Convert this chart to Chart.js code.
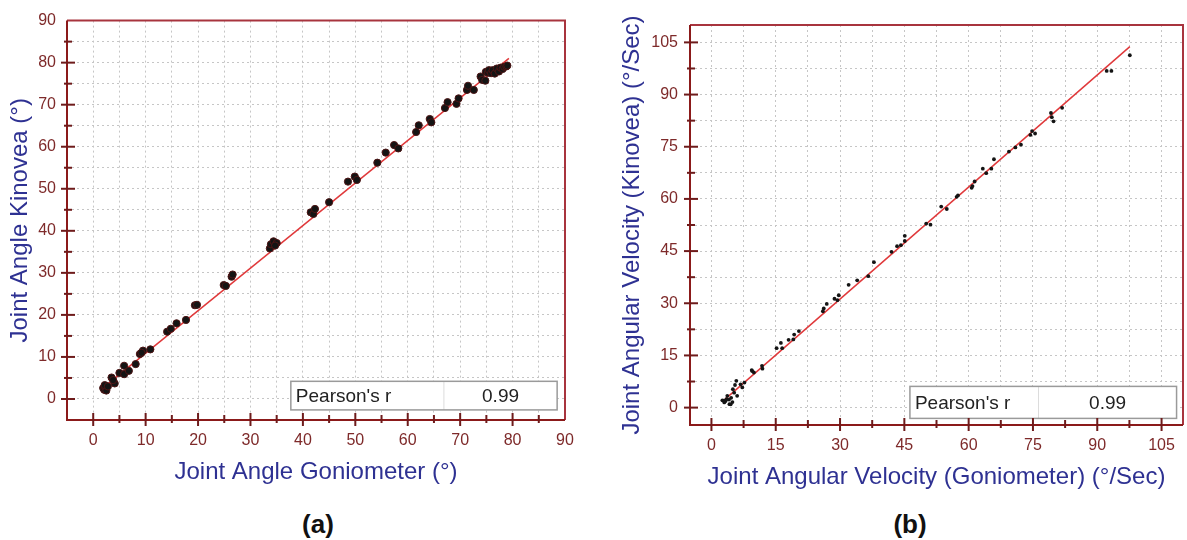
<!DOCTYPE html>
<html>
<head>
<meta charset="utf-8">
<script src="https://cdn.jsdelivr.net/npm/chart.js@4.4.1/dist/chart.umd.min.js"></script>
<style>
  body { margin: 0; background: #fff; width: 1187px; height: 540px; position: relative; overflow: hidden;
         font-family: 'Liberation Sans', Arial, sans-serif; }
  canvas { position: absolute; top: 0; }
  .caption { position: absolute; top: 509px; font-size: 26px; line-height: 30px; font-weight: bold;
             color: #111; transform: translateX(-50%); }
</style>
</head>
<body>
<canvas id="chartA" width="590" height="500" style="left:0px"></canvas>
<canvas id="chartB" width="592" height="500" style="left:595px"></canvas>
<div class="caption" style="left:318px">(a)</div>
<div class="caption" style="left:910px">(b)</div>

<script>
// ---- values ----

// (a) joint angle, degrees
const goniometerAngle = [1.9, 2.1, 2.3, 2.5, 2.2, 2.8, 3.5, 4.1, 3.8, 5.0, 5.9, 5.9, 6.8, 8.1, 8.9, 9.5, 9.2, 10.9,
  14.1, 14.8, 15.9, 17.7, 19.4, 19.8, 24.9, 25.3, 26.4, 26.6, 33.7, 33.9, 34.4, 35.0, 34.7, 41.5, 42.0, 42.3,
  45.0, 48.6, 49.9, 50.3, 54.2, 55.8, 57.4, 58.2, 61.6, 62.1, 64.2, 64.5, 67.1, 67.6, 69.3, 69.7, 71.3, 71.5,
  72.6, 73.9, 74.2, 74.8, 74.9, 75.3, 75.5, 75.9, 76.2, 76.6, 77.0, 77.4, 77.7, 78.1, 78.4, 78.8, 79.0];
const kinoveaAngle = [2.6, 2.2, 2.8, 2.0, 3.3, 3.0, 5.1, 3.7, 4.5, 6.2, 7.9, 5.9, 6.7, 8.3, 10.7, 11.5, 11.0, 11.8,
  16.0, 16.7, 18.0, 18.8, 22.3, 22.4, 27.1, 26.9, 29.1, 29.6, 35.8, 36.8, 37.5, 37.1, 36.5, 44.4, 44.0, 45.2,
  46.8, 51.7, 52.9, 52.1, 56.2, 58.6, 60.4, 59.6, 63.5, 65.1, 66.6, 65.8, 69.2, 70.6, 70.2, 71.5, 73.5, 74.5,
  73.5, 76.7, 75.9, 75.7, 77.8, 77.6, 78.2, 77.5, 78.2, 77.4, 78.6, 77.9, 78.8, 78.5, 79.0, 79.1, 79.3];
const angleFitX = [1.5, 79.3];
const angleFitY = [2.3, 81.0];
const angleTicks = [0, 10, 20, 30, 40, 50, 60, 70, 80, 90];

// (b) joint angular velocity, degrees / sec
const goniometerVelocity = [2.55, 2.9, 3.3, 3.7, 4.1, 4.2, 4.5, 4.9, 5.0, 5.3, 5.5, 5.8, 6.0, 6.8, 7.2, 7.7,
  9.4, 9.5, 9.9, 11.8, 11.9, 15.2, 16.2, 16.5, 18.0, 19.1, 19.3, 20.4, 26.0, 26.2, 26.9, 28.7, 29.4, 29.7,
  32.0, 34.0, 36.6, 37.9, 42.0, 43.3, 44.2, 45.1, 45.1, 50.1, 51.1, 53.6, 54.9, 57.2, 57.5, 60.7, 60.9, 61.4,
  63.3, 64.1, 65.3, 65.9, 69.4, 70.9, 72.2, 74.4, 74.8, 75.5, 79.2, 79.4, 79.8, 81.8, 92.2, 93.3, 97.6,
  3.0, 4.6, 3.5];
const kinoveaVelocity = [2.1, 2.0, 1.9, 3.4, 2.3, 1.0, 0.95, 1.6, 5.3, 4.3, 6.5, 7.7, 3.4, 6.7, 5.8, 7.2,
  10.8, 10.5, 10.1, 12.0, 11.2, 17.1, 18.6, 17.1, 19.5, 19.6, 21.0, 22.0, 27.7, 28.5, 29.8, 31.3, 30.9, 32.3,
  35.3, 36.6, 37.8, 41.8, 44.8, 46.4, 46.7, 49.4, 47.9, 52.9, 52.6, 57.8, 57.1, 60.6, 61.0, 63.2, 63.7, 65.0,
  68.7, 67.4, 68.7, 71.4, 73.6, 74.8, 75.6, 78.4, 79.5, 78.8, 84.7, 83.5, 82.3, 86.2, 96.8, 96.8, 101.3,
  1.5, 2.8, 2.4];
const velocityFitX = [2.8, 97.6];
const velocityFitY = [2.0, 103.8];
const velocityTicks = [0, 15, 30, 45, 60, 75, 90, 105];

const pearsonLabel = "Pearson's r";
const pearsonValues = ['0.99', '0.99'];

// ---- styling ----
const FONT = "'Liberation Sans', Arial, sans-serif";
const TICK_COLOR = '#7e2a2a';
const TITLE_COLOR = '#2e3192';
const AXIS_COLOR = '#8b1a1a';

Chart.defaults.font.family = FONT;

function pairs(xs, ys) {
    return xs.map((v, i) => ({ x: v, y: ys[i] }));
}

// labelled ticks plus the minor ticks half way between them
function tickList(labels, min, max) {
    const step = labels[1] - labels[0];
    const out = [];
    for (let v = labels[0] - step / 2; v <= labels[labels.length - 1] + step / 2 + 1e-9; v += step / 2) {
        const r = Math.round(v * 100) / 100;
        if (r >= min && r <= max) out.push(r);
    }
    return out;
}

// axis frame + tick marks crossing the axis lines
const framePlugin = {
    id: 'frame',
    afterDraw(chart, args, opts) {
        const { ctx, chartArea: a, scales: { x, y } } = chart;
        ctx.save();
        ctx.lineWidth = 2;
        ctx.strokeStyle = '#a8343e';
        ctx.beginPath();
        ctx.moveTo(a.left, a.top); ctx.lineTo(a.right, a.top); ctx.lineTo(a.right, a.bottom);
        ctx.stroke();
        ctx.strokeStyle = AXIS_COLOR;
        ctx.beginPath();
        ctx.moveTo(a.left, a.top); ctx.lineTo(a.left, a.bottom); ctx.lineTo(a.right, a.bottom);
        ctx.stroke();

        ctx.strokeStyle = '#6e1b1b';
        x.ticks.forEach(t => {
            if (t.value <= x.min || t.value >= x.max) return;
            const major = opts.xLabels.includes(t.value);
            const px = x.getPixelForValue(t.value);
            ctx.beginPath();
            ctx.moveTo(px, a.bottom - (major ? 7 : 5));
            ctx.lineTo(px, a.bottom + (major ? 6 : 3));
            ctx.stroke();
        });
        y.ticks.forEach(t => {
            if (t.value <= y.min || t.value >= y.max) return;
            const major = opts.yLabels.includes(t.value);
            const py = y.getPixelForValue(t.value);
            ctx.beginPath();
            ctx.moveTo(a.left - (major ? 6 : 3), py);
            ctx.lineTo(a.left + (major ? 8 : 5), py);
            ctx.stroke();
        });
        ctx.restore();
    }
};

// the small "Pearson's r" table inside the plot
const pearsonPlugin = {
    id: 'pearson',
    afterDatasetsDraw(chart, args, opts) {
        const { ctx, scales: { x, y } } = chart;
        const l = x.getPixelForValue(opts.x0), r = x.getPixelForValue(opts.x1);
        const d = x.getPixelForValue(opts.xDiv);
        const t = y.getPixelForValue(opts.y0), b = y.getPixelForValue(opts.y1);
        ctx.save();
        ctx.fillStyle = '#fff';
        ctx.fillRect(l, t, r - l, b - t);
        ctx.strokeStyle = '#dcdcdc';
        ctx.lineWidth = 1;
        ctx.beginPath(); ctx.moveTo(d, t); ctx.lineTo(d, b); ctx.stroke();
        ctx.strokeStyle = '#9a9a9a';
        ctx.lineWidth = 1.5;
        ctx.strokeRect(l, t, r - l, b - t);
        ctx.fillStyle = '#222';
        ctx.font = '19px ' + FONT;
        ctx.textBaseline = 'middle';
        ctx.textAlign = 'left';
        ctx.fillText(opts.label, l + 5, (t + b) / 2 + 1);
        ctx.textAlign = 'center';
        ctx.fillText(opts.value, (d + r) / 2, (t + b) / 2 + 1);
        ctx.restore();
    }
};

function axis(o) {
    return {
        type: 'linear',
        min: o.min,
        max: o.max,
        afterBuildTicks: s => { s.ticks = tickList(o.labels, o.min, o.max).map(v => ({ value: v })); },
        afterFit: s => { if (o.width) s.width = o.width; if (o.height) s.height = o.height; },
        grid: { color: '#c6c6c6', lineWidth: 1, drawTicks: false },
        border: { display: false, dash: [2, 3] },
        ticks: {
            autoSkip: false,
            maxRotation: 0,
            padding: o.tickPad,
            color: TICK_COLOR,
            font: { size: 16 },
            callback: v => o.labels.includes(v) ? String(v) : ''
        },
        title: {
            display: true,
            text: o.title,
            color: TITLE_COLOR,
            font: { size: 24 },
            padding: o.titlePad
        }
    };
}

function createPanel(id, cfg) {
    const chart = new Chart(document.getElementById(id), {
        type: 'scatter',
        data: {
            datasets: [
                {
                    data: cfg.points,
                    order: 0,
                    pointRadius: cfg.pointRadius,
                    backgroundColor: '#141414',
                    borderColor: cfg.pointEdge,
                    borderWidth: cfg.pointBorder
                },
                {
                    data: cfg.fit,
                    order: 1,
                    showLine: true,
                    pointRadius: 0,
                    borderColor: '#e0393b',
                    borderWidth: 1.5,
                    fill: false
                }
            ]
        },
        options: {
            responsive: false,
            animation: false,
            events: [],
            layout: { padding: cfg.padding },
            plugins: {
                legend: { display: false },
                tooltip: { enabled: false },
                frame: { xLabels: cfg.xAxis.labels, yLabels: cfg.yAxis.labels },
                pearson: cfg.box
            },
            scales: {
                x: axis(cfg.xAxis),
                y: axis(cfg.yAxis)
            }
        },
        plugins: [framePlugin, pearsonPlugin]
    });
    return chart;
}

createPanel('chartA', {
    points: pairs(goniometerAngle, kinoveaAngle),
    fit: pairs(angleFitX, angleFitY),
    pointRadius: 3.6,
    pointEdge: '#4d1414',
    pointBorder: 1,
    padding: { left: 0, top: 19, right: 25, bottom: 0 },
    xAxis: { min: -5, max: 90, labels: angleTicks, height: 80, tickPad: 11,
             title: 'Joint Angle Goniometer (°)', titlePad: { top: 0, bottom: 13 } },
    yAxis: { min: -5, max: 90, labels: angleTicks, width: 67, tickPad: 11,
             title: 'Joint Angle Kinovea (°)', titlePad: { top: 6, bottom: 0 } },
    box: { x0: 37.7, x1: 88.5, xDiv: 66.9, y0: 4.2, y1: -2.6, label: pearsonLabel, value: pearsonValues[0] }
});

createPanel('chartB', {
    points: pairs(goniometerVelocity, kinoveaVelocity),
    fit: pairs(velocityFitX, velocityFitY),
    pointRadius: 1.9,
    pointEdge: '#141414',
    pointBorder: 0,
    padding: { left: 0, top: 25, right: 2, bottom: 0 },
    xAxis: { min: -5, max: 110, labels: velocityTicks, height: 75, tickPad: 11,
             title: 'Joint Angular Velocity (Goniometer) (°/Sec)', titlePad: { top: 0, bottom: 8 } },
    yAxis: { min: -5, max: 110, labels: velocityTicks, width: 95, tickPad: 12,
             title: 'Joint Angular Velocity (Kinovea) (°/Sec)', titlePad: { top: 23, bottom: 0 } },
    box: { x0: 46.3, x1: 108.5, xDiv: 76.3, y0: 6.1, y1: -3.1, label: pearsonLabel, value: pearsonValues[1] }
});
</script>
</body>
</html>
